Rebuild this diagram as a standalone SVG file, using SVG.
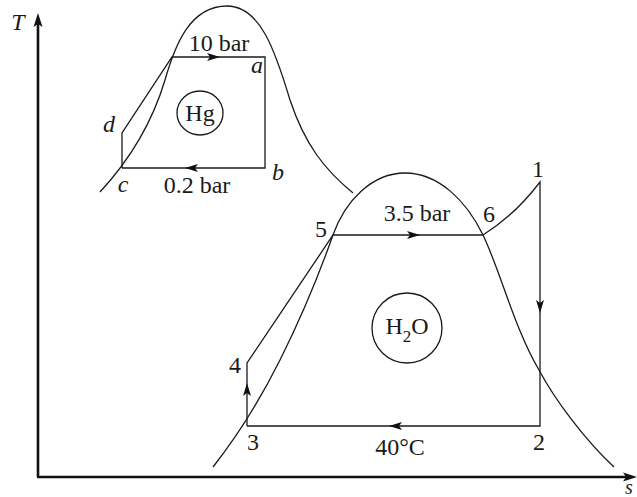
<svg xmlns="http://www.w3.org/2000/svg" width="637" height="497" viewBox="0 0 637 497">
<style>
.ln{fill:none;stroke:#1a1a1a;stroke-width:1.3}
.ax{fill:none;stroke:#111;stroke-width:2.6}
.ah{fill:#111;stroke:none}
text{font-family:"Liberation Serif","Times New Roman",serif;font-size:24px;fill:#1a1a1a;text-anchor:middle}
.it{font-style:italic}
</style>
<defs>
<path id="arr" d="M0,0 L-13,-4 L-10,0 L-13,4 Z"/>
<path id="axarr" d="M0,0 L-14,-4.5 L-11,0 L-14,4.5 Z"/>
</defs>

<g id="axes">
<line class="ax" x1="38" y1="477" x2="38" y2="22"/>
<line class="ax" x1="37" y1="477" x2="628" y2="477"/>
<use href="#axarr" class="ah" transform="translate(38,13) rotate(-90)"/>
<use href="#axarr" class="ah" transform="translate(637,477)"/>
<text class="it" x="18" y="30">T</text>
<text class="it" x="629" y="494" style="font-size:20px">s</text>
</g>

<g id="hg-dome">
<path class="ln" d="M100,192 C125,165 150,130 165,80 C175,45 190,6 227,6 C260,6 275,50 290,100 C305,145 325,170 353,193"/>
</g>

<g id="h2o-dome">
<path class="ln" d="M213,467 Q250,420 280,360 Q310,300 333,235 C345,201 372,173 405,173 C438,173 466,200 483,235 C500,270 515,330 539,370 C555,400 585,440 614,467"/>
</g>

<g id="connectors">
<path class="ln" d="M122,168 L122,133 L172,57 L265,57 L265,168 L122,168"/>
<use href="#arr" class="ah" transform="translate(220,57)"/>
<use href="#arr" class="ah" transform="translate(185,168) rotate(180)"/>
<path class="ln" d="M247,426 L247,363 L333,235 L483,235 Q515,215 540,182 L540,426 L247,426"/>
<use href="#arr" class="ah" transform="translate(420,235)"/>
<use href="#arr" class="ah" transform="translate(540,313) rotate(90)"/>
<use href="#arr" class="ah" transform="translate(389,426) rotate(180)"/>
<use href="#arr" class="ah" transform="translate(247,383) rotate(-90)"/>
</g>

<g id="node-hg">
<ellipse class="ln" cx="200" cy="113" rx="23" ry="22"/>
<text x="200" y="121">Hg</text>
</g>

<g id="node-h2o">
<circle class="ln" cx="407" cy="328" r="35"/>
<text x="407" y="334">H<tspan font-size="17" dy="8">2</tspan><tspan dy="-8">O</tspan></text>
</g>

<g id="labels-hg">
<text x="219" y="51">10 bar</text>
<text x="197" y="193">0.2 bar</text>
<text class="it" x="257" y="73">a</text>
<text class="it" x="278" y="180">b</text>
<text class="it" x="123" y="192">c</text>
<text class="it" x="109" y="132">d</text>
</g>

<g id="labels-h2o">
<text x="417" y="221">3.5 bar</text>
<text x="400" y="455">40°C</text>
<text x="538" y="177">1</text>
<text x="539" y="450">2</text>
<text x="253" y="450">3</text>
<text x="235" y="373">4</text>
<text x="321" y="237">5</text>
<text x="489" y="222">6</text>
</g>
</svg>
